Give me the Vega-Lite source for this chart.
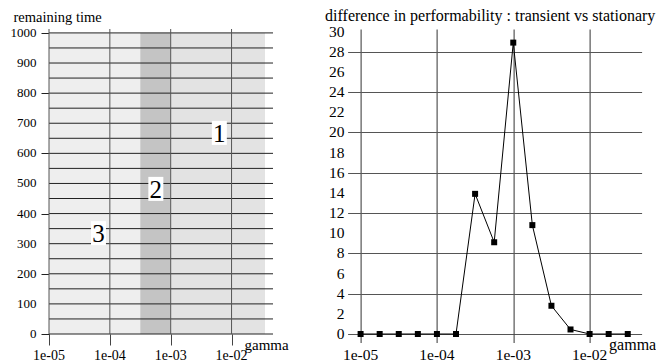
{
  "$schema": "https://vega.github.io/schema/vega-lite/v6.json",
  "background": "white",
  "padding": {"left": 10, "top": 7, "right": 1, "bottom": 5},
  "bounds": "flush",
  "spacing": 87.6,
  "config": {"view": {"stroke": null}},
  "datasets": {
    "diff": [
      {"gamma": 1e-5, "value": 0},
      {"gamma": 1.778e-5, "value": 0},
      {"gamma": 3.162e-5, "value": 0},
      {"gamma": 5.623e-5, "value": 0},
      {"gamma": 1e-4, "value": 0},
      {"gamma": 1.778e-4, "value": 0},
      {"gamma": 3.162e-4, "value": 13.9},
      {"gamma": 5.623e-4, "value": 9.1},
      {"gamma": 1e-3, "value": 28.9},
      {"gamma": 1.778e-3, "value": 10.8},
      {"gamma": 3.162e-3, "value": 2.8},
      {"gamma": 5.623e-3, "value": 0.45},
      {"gamma": 1e-2, "value": 0},
      {"gamma": 1.778e-2, "value": 0},
      {"gamma": 3.162e-2, "value": 0}
    ],
    "regions": [
      {"x0": 1e-5, "x1": 3.16e-4, "lo": 0, "hi": 1000, "r": "3"},
      {"x0": 3.16e-4, "x1": 1e-3, "lo": 0, "hi": 1000, "r": "2"},
      {"x0": 1e-3, "x1": 0.0355, "lo": 0, "hi": 1000, "r": "1"}
    ],
    "labels": [
      {"g": 6.3e-3, "v": 668, "t": "1"},
      {"g": 5.7e-4, "v": 482, "t": "2"},
      {"g": 6.5e-5, "v": 335, "t": "3"}
    ],
    "hgrid": [
      {"v": 0}, {"v": 50}, {"v": 100}, {"v": 150}, {"v": 200}, {"v": 250}, {"v": 300},
      {"v": 350}, {"v": 400}, {"v": 450}, {"v": 500}, {"v": 550}, {"v": 600}, {"v": 650},
      {"v": 700}, {"v": 750}, {"v": 800}, {"v": 850}, {"v": 900}, {"v": 950}, {"v": 1000}
    ],
    "vgrid": [{"g": 1e-5}, {"g": 1e-4}, {"g": 1e-3}, {"g": 1e-2}],
    "xlab": [
      {"g": 1e-5, "t": "1e-05"}, {"g": 1e-4, "t": "1e-04"}, {"g": 1e-3, "t": "1e-03"}, {"g": 1e-2, "t": "1e-02"}
    ],
    "ylabL": [
      {"v": 0, "t": "0"}, {"v": 100, "t": "100"}, {"v": 200, "t": "200"}, {"v": 300, "t": "300"},
      {"v": 400, "t": "400"}, {"v": 500, "t": "500"}, {"v": 600, "t": "600"}, {"v": 700, "t": "700"},
      {"v": 800, "t": "800"}, {"v": 900, "t": "900"}, {"v": 1000, "t": "1000"}
    ],
    "ylabR": [
      {"v": 0, "t": "0"}, {"v": 2, "t": "2"}, {"v": 4, "t": "4"}, {"v": 6, "t": "6"},
      {"v": 8, "t": "8"}, {"v": 10, "t": "10"}, {"v": 12, "t": "12"}, {"v": 14, "t": "14"},
      {"v": 16, "t": "16"}, {"v": 18, "t": "18"}, {"v": 20, "t": "20"}, {"v": 22, "t": "22"},
      {"v": 24, "t": "24"}, {"v": 26, "t": "26"}, {"v": 28, "t": "28"}, {"v": 30, "t": "30"}
    ]
  },
  "hconcat": [
    {
      "width": 224,
      "height": 305,
      "layer": [
        {
          "data": {"name": "regions"},
          "mark": {"type": "rect"},
          "encoding": {
            "x": {
              "field": "x0", "type": "quantitative",
              "scale": {"type": "log", "domain": [1e-5, 0.048], "nice": false},
              "axis": {
                "values": [1e-5, 1e-4, 1e-3, 1e-2],
                "labelExpr": "''",
                "grid": false,
                "domain": false,
                "titleFont": "Liberation Serif",
                "titleColor": "black",
                "titleFontWeight": "normal",
                "tickSize": 11,
                "tickColor": "#444",
                "title": "gamma",
                "titleFontSize": 15,
                "titleAlign": "left",
                "titleBaseline": "middle",
                "titleAnchor": "start",
                "titleX": 195,
                "titleY": 10
              }
            },
            "x2": {"field": "x1"},
            "y": {
              "field": "lo", "type": "quantitative",
              "scale": {"domain": [0, 1013], "nice": false},
              "axis": {
                "values": [0, 50, 100, 150, 200, 250, 300, 350, 400, 450, 500, 550, 600, 650, 700, 750, 800, 850, 900, 950, 1000],
                "labelExpr": "''",
                "grid": false,
                "domain": false,
                "titleFont": "Liberation Serif",
                "titleColor": "black",
                "titleFontWeight": "normal",
                "tickSize": 8,
                "tickColor": "#222",
                "title": "remaining time",
                "titleFontSize": 14.5,
                "titleAngle": 0,
                "titleAlign": "left",
                "titleBaseline": "alphabetic",
                "titleX": -36,
                "titleY": -8
              }
            },
            "y2": {"field": "hi"},
            "color": {
              "field": "r", "type": "nominal",
              "scale": {"domain": ["1", "2", "3"], "range": ["#e3e3e3", "#c4c4c4", "#eeeeee"]},
              "legend": null
            }
          }
        },
        {
          "data": {"name": "hgrid"},
          "mark": {"type": "rule", "color": "#222", "strokeWidth": 1},
          "encoding": {"y": {"field": "v", "type": "quantitative"}}
        },
        {
          "data": {"name": "vgrid"},
          "mark": {"type": "rule", "color": "#555", "strokeWidth": 1},
          "encoding": {"x": {"field": "g", "type": "quantitative"}}
        },
        {
          "data": {"name": "labels"},
          "mark": {"type": "point", "shape": "M-0.625,-1H0.625V1H-0.625Z", "filled": true, "color": "white", "opacity": 1, "size": 576},
          "encoding": {
            "x": {"field": "g", "type": "quantitative"},
            "y": {"field": "v", "type": "quantitative"}
          }
        },
        {
          "data": {"name": "labels"},
          "mark": {"type": "text", "fontSize": 25, "baseline": "middle", "align": "center", "font": "Liberation Serif", "color": "black", "dy": 1},
          "encoding": {
            "x": {"field": "g", "type": "quantitative"},
            "y": {"field": "v", "type": "quantitative"},
            "text": {"field": "t"}
          }
        },
        {
          "data": {"name": "xlab"},
          "mark": {"type": "text", "fontSize": 14, "baseline": "middle", "align": "center", "font": "Liberation Serif", "color": "black", "dy": 22},
          "encoding": {
            "x": {"field": "g", "type": "quantitative"},
            "y": {"datum": 0, "type": "quantitative"},
            "text": {"field": "t"}
          }
        },
        {
          "data": {"name": "ylabL"},
          "mark": {"type": "text", "fontSize": 13, "baseline": "middle", "align": "right", "font": "Liberation Serif", "color": "black", "dx": -12.5},
          "encoding": {
            "x": {"datum": 1e-5, "type": "quantitative"},
            "y": {"field": "v", "type": "quantitative"},
            "text": {"field": "t"}
          }
        }
      ]
    },
    {
      "width": 281,
      "height": 305,
      "layer": [
        {
          "data": {"name": "diff"},
          "mark": {
            "type": "line",
            "color": "black",
            "strokeWidth": 1,
            "point": {"shape": "square", "filled": true, "color": "black", "size": 36, "opacity": 1}
          },
          "encoding": {
            "x": {
              "field": "gamma", "type": "quantitative",
              "scale": {"type": "log", "domain": [1e-5, 0.048], "nice": false},
              "axis": {
                "values": [1e-5, 1e-4, 1e-3, 1e-2],
                "labelExpr": "''",
                "grid": true,
                "domain": false,
                "titleFont": "Liberation Serif",
                "titleColor": "black",
                "titleFontWeight": "normal",
                "gridColor": "#333",
                "gridOpacity": 1,
                "tickSize": 8.5,
                "tickColor": "#333",
                "title": "gamma",
                "titleFontSize": 16,
                "titleAlign": "left",
                "titleBaseline": "middle",
                "titleAnchor": "start",
                "titleX": 248,
                "titleY": 10
              }
            },
            "y": {
              "field": "value", "type": "quantitative",
              "scale": {"domain": [0, 30.25], "nice": false},
              "axis": {
                "values": [0, 2, 4, 6, 8, 10, 12, 14, 16, 18, 20, 22, 24, 26, 28, 30],
                "labelExpr": "''",
                "grid": true,
                "domain": false,
                "titleFont": "Liberation Serif",
                "titleColor": "black",
                "titleFontWeight": "normal",
                "gridColor": "#555",
                "gridOpacity": 1,
                "tickSize": 13,
                "tickColor": "#555",
                "title": "difference in performability : transient vs stationary",
                "titleFontSize": 16,
                "titleAngle": 0,
                "titleAlign": "left",
                "titleBaseline": "alphabetic",
                "titleX": -36,
                "titleY": -9
              }
            }
          }
        },
        {
          "data": {"name": "xlab"},
          "mark": {"type": "text", "fontSize": 15.5, "baseline": "middle", "align": "center", "font": "Liberation Serif", "color": "black", "dy": 21},
          "encoding": {
            "x": {"field": "g", "type": "quantitative"},
            "y": {"datum": 0, "type": "quantitative"},
            "text": {"field": "t"}
          }
        },
        {
          "data": {"name": "ylabR"},
          "mark": {"type": "text", "fontSize": 15.5, "baseline": "middle", "align": "right", "font": "Liberation Serif", "color": "black", "dx": -16},
          "encoding": {
            "x": {"datum": 1e-5, "type": "quantitative"},
            "y": {"field": "v", "type": "quantitative"},
            "text": {"field": "t"}
          }
        }
      ]
    }
  ]
}
